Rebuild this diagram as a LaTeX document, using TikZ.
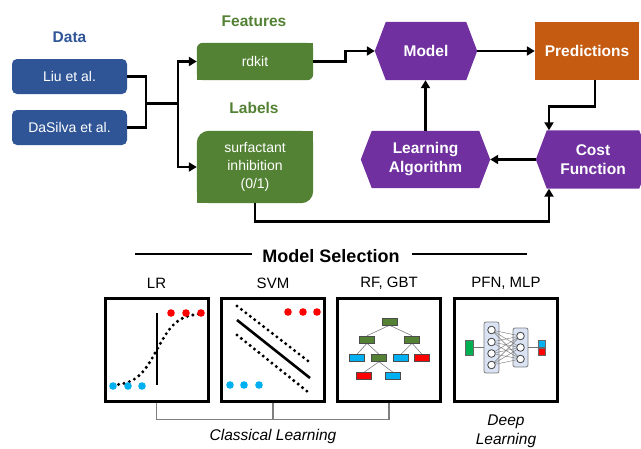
\documentclass[tikz,border=0pt]{standalone}
\usepackage{fontspec}
\setmainfont{Liberation Sans}
\usetikzlibrary{arrows.meta,backgrounds}
\definecolor{dblue}{HTML}{2F5597}
\definecolor{dgreen}{HTML}{548235}
\definecolor{purp}{HTML}{7030A0}
\definecolor{orng}{HTML}{C55A11}
\definecolor{dotblue}{HTML}{00B0F0}
\definecolor{dotred}{HTML}{FF0000}
\definecolor{nngreen}{HTML}{00B050}
\definecolor{layerfill}{HTML}{DAE3F3}
\definecolor{brgray}{HTML}{7F7F7F}
\tikzset{
  conn/.style={line width=2.6pt, line join=miter},
  arr/.style={conn, -{Triangle[length=8pt,width=9pt]}},
  databox/.style={fill=dblue, rounded corners=5pt, minimum width=115pt, minimum height=35pt,
    text=white, inner sep=0pt, font=\fontsize{14}{17}\selectfont},
  greenbox/.style={inner sep=0pt, text=white, align=center, font=\fontsize{14}{18}\selectfont},
  hexnode/.style={inner sep=0pt, text=white, align=center, font=\bfseries\fontsize{15.5}{19}\selectfont},
  title/.style={inner sep=0pt, font=\bfseries\fontsize{15.5}{19}\selectfont},
  lab/.style={inner sep=0pt, font=\fontsize{15}{18}\selectfont},
  selbox/.style={draw, line width=3pt, minimum width=103pt, minimum height=103pt, inner sep=0pt},
  dot/.style={circle, inner sep=0pt, minimum size=7.6pt},
  dotline/.style={line width=3.4pt, line cap=round, dash pattern=on 0pt off 5.6pt},
  leaf/.style={draw=black!70, line width=0.5pt, minimum width=15pt, minimum height=7pt, inner sep=0pt},
  neuron/.style={circle, draw=black!75, fill=white, line width=0.8pt, minimum size=7.6pt, inner sep=0pt},
  layer/.style={draw=brgray, fill=layerfill, rounded corners=2pt, line width=0.8pt, inner sep=0pt},
}
\begin{document}
\begin{tikzpicture}[x=1pt,y=-1pt]
\useasboundingbox (0,0) rectangle (641,448);

% ---------- Data ----------
\node[title, text=dblue] (datat) at (69.5,37) {Data};
\node[databox] (liu) at (69.5,76.5) {Liu et al.};
\node[databox] (dasilva) at (69.5,127.5) {DaSilva et al.};

% ---------- Features / Labels ----------
\node[title, text=dgreen] (feat) at (254,21) {Features};
\node[title, text=dgreen] (labs) at (254,108) {Labels};
\node[greenbox, minimum width=116pt, minimum height=37pt] (rdkit) at (255,61.5) {rdkit};
\node[greenbox, minimum width=116pt, minimum height=72pt] (surf) at (255,167)
  {surfactant\\inhibition\\(0/1)};

% ---------- Loop ----------
\node[hexnode, minimum width=102pt, minimum height=58pt] (model) at (426,51) {Model};
\node[hexnode, fill=orng, minimum width=104pt, minimum height=58pt] (pred) at (587,51) {Predictions};
\node[hexnode, minimum width=114pt, minimum height=58pt] (cost) at (593,159.5) {Cost\\Function};
\node[hexnode, minimum width=129pt, minimum height=57pt] (learn) at (425.5,159.5) {Learning\\Algorithm};

\begin{scope}[on background layer]
  \fill[white] (0,0) rectangle (641,448);
  \fill[dgreen, rounded corners=6pt] (rdkit.south west) rectangle (rdkit.north east);
  \fill[dgreen] (rdkit.north east) rectangle ++(-12,12);
  \fill[dgreen] (rdkit.south west) rectangle ++(12,-12);
  \fill[dgreen, rounded corners=12pt] (surf.south west) rectangle (surf.north east);
  \fill[dgreen] (surf.north east) rectangle ++(-16,16);
  \fill[dgreen] (surf.south west) rectangle ++(16,-16);
  \foreach \n in {model,learn,cost} {
    \fill[purp] (\n.west) -- ([xshift=11pt]\n.north west) -- ([xshift=-11pt]\n.north east)
      -- (\n.east) -- ([xshift=-11pt]\n.south east) -- ([xshift=11pt]\n.south west) -- cycle;
  }
\end{scope}

% ---------- Connectors ----------
\coordinate (j1) at (146,103.5);
\coordinate (j2) at (178,103.5);
\draw[conn] (liu.east) -| (j1);
\draw[conn] (dasilva.east) -| (j1);
\draw[conn] (j1) -- (j2);
\draw[arr] (j2) |- (rdkit.west);
\draw[arr] (j2) |- (surf.west);
\draw[arr] (rdkit.east) -- ++(32,0) |- (model.west);
\draw[arr] (model.east) -- (pred.west);
\draw[arr] ([xshift=8pt]pred.south) -- ++(0,26) -| ([xshift=-44pt]cost.north);
\draw[arr] (cost.west) -- (learn.east);
\draw[arr] (learn.north) -- (learn.north |- model.south);
\draw[arr] (surf.south) -- ++(0,18) -| ([xshift=-44pt]cost.south);

% ---------- Model Selection ----------
\node[inner sep=0pt, font=\bfseries\fontsize{18}{21}\selectfont] (ms) at (331,256) {Model Selection};
\coordinate (ml1) at (135,254); \coordinate (ml2) at (252,254);
\coordinate (mr1) at (412,254); \coordinate (mr2) at (527,254);
\draw[line width=2.6pt] (ml1) -- (ml2);
\draw[line width=2.6pt] (mr1) -- (mr2);

\node[lab] (lrl) at (156.5,283) {LR};
\node[lab] (svml) at (273,283) {SVM};
\node[lab] (rfl) at (389,283) {RF, GBT};
\node[lab] (pfnl) at (506,283) {PFN, MLP};

\node[selbox] (lrbox) at (156.5,349.5) {};
\node[selbox] (svmbox) at (273,349.5) {};
\node[selbox] (rfbox) at (389,349.5) {};
\node[selbox] (nnbox) at (506,349.5) {};

% bracket
\draw[brgray, line width=1.1pt] (lrbox.south) -- ++(0,17) -| (rfbox.south);
\draw[brgray, line width=1.1pt] (svmbox.south) -- ++(0,17);
\node[lab, font=\itshape\fontsize{15.5}{19}\selectfont] (cl) at (273,436) {Classical Learning};
\node[lab, align=center, font=\itshape\fontsize{15.5}{19}\selectfont] (dl) at (506,431) {Deep\\Learning};

% LR contents
\draw[line width=2.6pt] (157,313) -- (157,385);
\draw[dotline] plot[domain=113:201, samples=70] (\x, {386 - 73/(1+exp(-(\x-157)/10))});
\foreach \x in {171,186,201} \node[dot, fill=dotred] at (\x,313) {};
\foreach \x in {113,128,142} \node[dot, fill=dotblue] at (\x,386) {};

% SVM contents
\draw[line width=2.6pt] (237,320) -- (310,378);
\draw[dotline] (237,306) -- (308,361);
\draw[dotline] (237,335) -- (308,392);
\foreach \x in {288,303,317} \node[dot, fill=dotred] at (\x,312) {};
\foreach \x in {230,244,259} \node[dot, fill=dotblue] at (\x,385) {};

% RF contents
\node[leaf, fill=dgreen] (t1) at (389.5,321.5) {};
\node[leaf, fill=dgreen] (t2) at (367,339.5) {};
\node[leaf, fill=dgreen] (t3) at (412,339.5) {};
\node[leaf, fill=dotblue] (t4) at (357,358) {};
\node[leaf, fill=dgreen] (t5) at (379,358) {};
\node[leaf, fill=dotblue] (t6) at (401,358) {};
\node[leaf, fill=dotred] (t7) at (422,358) {};
\node[leaf, fill=dotred] (t8) at (364,376) {};
\node[leaf, fill=dotblue] (t9) at (393,376) {};
\begin{scope}[on background layer]
\draw[black!50, line width=0.6pt] (t1.south) -- (t2.north) (t1.south) -- (t3.north)
  (t2.south) -- (t4.north) (t2.south) -- (t5.north)
  (t3.south) -- (t6.north) (t3.south) -- (t7.north)
  (t5.south) -- (t8.north) (t5.south) -- (t9.north);
\end{scope}

% NN contents
\node[layer, minimum width=15pt, minimum height=51pt] (l1) at (491.5,347.5) {};
\node[layer, minimum width=15pt, minimum height=39pt] (l2) at (520.5,347.5) {};
\node[draw=black!60, fill=nngreen, line width=0.5pt, minimum width=8pt, minimum height=15pt, inner sep=0pt] (inp) at (469,347.5) {};
\node[draw=black!60, fill=dotblue, line width=0.5pt, minimum width=7pt, minimum height=7pt, inner sep=0pt, anchor=south] (ob) at (541.5,347.5) {};
\node[draw=black!60, fill=dotred, line width=0.5pt, minimum width=7pt, minimum height=7.5pt, inner sep=0pt, anchor=north] (orr) at (541.5,347.5) {};
\foreach \i/\y in {1/330,2/342,3/353.5,4/365} \node[neuron] (a\i) at (491.5,\y) {};
\foreach \j/\y in {1/336,2/347.5,3/359} \node[neuron] (b\j) at (520.5,\y) {};
\foreach \i in {1,...,4} \foreach \j in {1,2,3} \draw[black!55, line width=0.4pt] (a\i) -- (b\j);
\draw[black!55, line width=0.6pt] (inp.east) -- (l1.west);
\draw[black!55, line width=0.6pt] (l2.east) -- (ob.south west);
\end{tikzpicture}
\end{document}
